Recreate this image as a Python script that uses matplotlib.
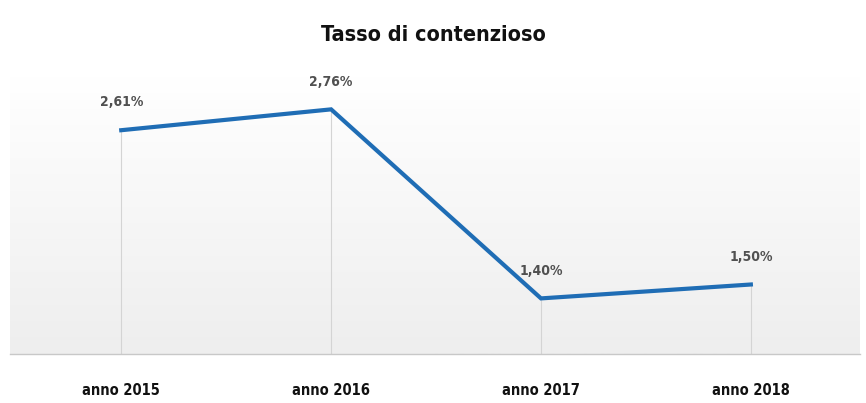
import matplotlib
matplotlib.use("Agg")
import matplotlib.pyplot as plt
import numpy as np
from matplotlib.colors import LinearSegmentedColormap

categories = ["anno 2015", "anno 2016", "anno 2017", "anno 2018"]
values = [2.61, 2.76, 1.40, 1.50]
labels = ["2,61%", "2,76%", "1,40%", "1,50%"]
title = "Tasso di contenzioso"

plt.rcParams['font.family'] = ["DejaVu Sans"]
plt.rcParams['font.stretch'] = 'condensed'

fig = plt.figure(figsize=(8.66, 4.03), dpi=100)
ax = fig.add_axes([10/866, 1 - 354/403, 850/866, (354-76)/403])

x = np.arange(len(categories))
ax.set_xlim(-0.53, 3.52)
ax.set_ylim(1.0, 3.0)

grad = np.linspace(0, 1, 256).reshape(-1, 1)
cmap = LinearSegmentedColormap.from_list("g", ["#eeeeee", "#ffffff"])
ax.imshow(grad, aspect='auto', cmap=cmap, origin='lower',
          extent=[-0.53, 3.52, 1.0, 3.0], zorder=0)

ax.vlines(x, 1.0, values, colors="#d4d4d4", linewidth=0.8, zorder=1)
ax.plot(x, values, color="#1f6db5", linewidth=3.0, solid_joinstyle='miter', zorder=3)

for xi, v, lab in zip(x, values, labels):
    ax.annotate(lab, (xi, v), xytext=(0, 20), textcoords='offset points',
                ha='center', va='center', fontsize=10, fontweight='bold',
                fontstretch='condensed', color="#505050")

for s in ["top", "left", "right"]:
    ax.spines[s].set_visible(False)
ax.spines["bottom"].set_color("#c8c8c8")
ax.spines["bottom"].set_linewidth(1.0)
ax.set_yticks([])
ax.set_xticks(x)
ax.set_xticklabels(categories, fontsize=10.5, fontweight='bold', fontstretch='condensed', color="#111111")
ax.tick_params(axis='x', length=0, pad=21)

fig.text(0.5, 1 - 35/403, title, ha='center', va='center', fontsize=15.5,
         fontweight='bold', fontstretch='condensed', color="#111111")

fig.savefig("out.png", dpi=100, facecolor="white")
